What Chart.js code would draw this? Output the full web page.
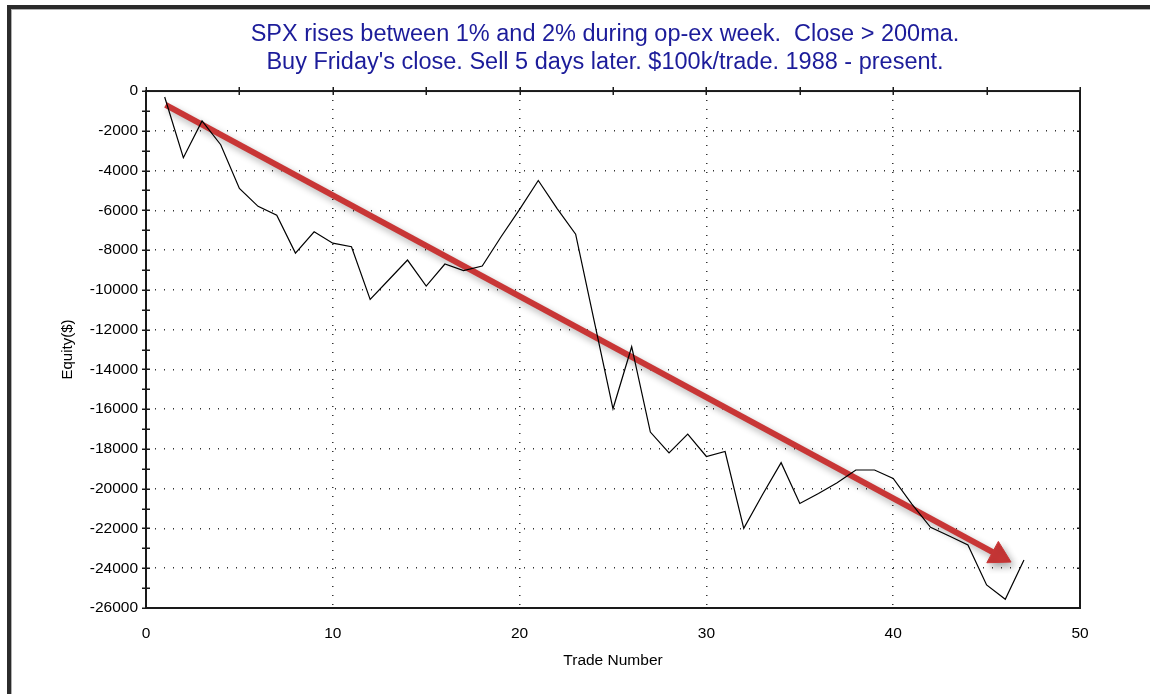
<!DOCTYPE html>
<html>
<head>
<meta charset="utf-8">
<script src="https://cdn.jsdelivr.net/npm/chart.js@4.4.0/dist/chart.umd.min.js"></script>
<style>
  html, body { margin: 0; padding: 0; background: #ffffff; }
  #wrap { width: 1150px; height: 694px; position: relative; }
</style>
</head>
<body>
<div id="wrap"><canvas id="c" width="1150" height="694"></canvas></div>
<script>
// ---- data ----
const titleLines = [
  "SPX rises between 1% and 2% during op-ex week.  Close > 200ma.",
  "Buy Friday's close. Sell 5 days later. $100k/trade. 1988 - present."
];
const xAxisTitle = "Trade Number";
const yAxisTitle = "Equity($)";

const tradeNumbers = [1,2,3,4,5,6,7,8,9,10,11,12,13,14,15,16,17,18,19,20,21,22,23,24,25,26,27,28,29,30,31,32,33,34,35,36,37,38,39,40,41,42,43,44,45,46,47];
const equity = [-300,-3350,-1500,-2700,-4900,-5800,-6250,-8150,-7080,-7650,
                -7830,-10480,-9490,-8500,-9810,-8700,-9030,-8800,-7340,-5950,
                -4500,-5900,-7200,-11600,-15980,-12860,-17150,-18200,-17250,-18380,
                -18130,-21990,-20300,-18690,-20740,-20240,-19700,-19060,-19060,-19480,
                -20770,-21940,-22380,-22830,-24840,-25560,-23590];

// trend arrow (start, head) in data units
const arrowX = [1.05, 45.65];
const arrowY = [-700, -23355];

const xMajorTicks = [0, 10, 20, 30, 40, 50];
const xMinorTicks = [0, 5, 10, 15, 20, 25, 30, 35, 40, 45, 50];
const yMajorTicks = [0,-2000,-4000,-6000,-8000,-10000,-12000,-14000,-16000,-18000,-20000,-22000,-24000,-26000];
const yMinorTicks = [-1000,-3000,-5000,-7000,-9000,-11000,-13000,-15000,-17000,-19000,-21000,-23000,-25000];

const FONT = "'Liberation Sans', Arial, sans-serif";

const decorPlugin = {
  id: 'decor',
  beforeDraw(chart) {
    const ctx = chart.ctx;
    ctx.save();
    ctx.fillStyle = '#ffffff';
    ctx.fillRect(0, 0, chart.width, chart.height);
    ctx.fillStyle = '#2b2b2b';
    ctx.fillRect(7, 5, chart.width - 7, 4);
    ctx.fillRect(7, 5, 4, chart.height - 5);
    ctx.fillStyle = '#b0b0b0';
    ctx.fillRect(11, 9, chart.width - 11, 1);
    ctx.fillRect(11, 9, 1, chart.height - 9);
    ctx.restore();
  },
  beforeDatasetDraw(chart, args) {
    if (args.index === 1) {
      const ctx = chart.ctx;
      ctx.save();
      ctx.shadowColor = 'rgba(0,0,0,0.3)';
      ctx.shadowBlur = 7;
      ctx.shadowOffsetX = 3;
      ctx.shadowOffsetY = 4;
    }
  },
  afterDatasetDraw(chart, args) {
    if (args.index === 1) chart.ctx.restore();
  },
  afterDraw(chart) {
    const ctx = chart.ctx;
    const a = chart.chartArea;
    const xs = chart.scales.x, ys = chart.scales.y;
    ctx.save();
    ctx.strokeStyle = '#1a1a1a';
    ctx.lineWidth = 2;
    ctx.strokeRect(a.left, a.top, a.right - a.left, a.bottom - a.top);
    ctx.lineWidth = 1.5;
    ctx.beginPath();
    [...yMajorTicks, ...yMinorTicks].forEach(v => {
      const py = Math.round(ys.getPixelForValue(v)) + 0.25;
      ctx.moveTo(a.left - 4, py); ctx.lineTo(a.left + 4, py);
    });
    yMajorTicks.forEach(v => {
      const py = Math.round(ys.getPixelForValue(v)) + 0.25;
      ctx.moveTo(a.right - 3, py); ctx.lineTo(a.right, py);
    });
    xMinorTicks.forEach(v => {
      const px = Math.round(xs.getPixelForValue(v)) + 0.25;
      ctx.moveTo(px, a.top - 4); ctx.lineTo(px, a.top + 4);
    });
    ctx.stroke();
    ctx.restore();
  }
};

function arrowAngle(c) {
  const xs = c.chart.scales.x, ys = c.chart.scales.y;
  if (!xs || !ys) return 0;
  const dx = xs.getPixelForValue(arrowX[1]) - xs.getPixelForValue(arrowX[0]);
  const dy = ys.getPixelForValue(arrowY[1]) - ys.getPixelForValue(arrowY[0]);
  return 90 + Math.atan2(dy, dx) * 180 / Math.PI;
}

new Chart(document.getElementById('c'), {
  type: 'line',
  data: {
    datasets: [
      {
        label: 'Equity',
        data: tradeNumbers.map((t, i) => ({ x: t, y: equity[i] })),
        borderColor: '#000000',
        borderWidth: 1.2,
        pointRadius: 0,
        tension: 0,
        fill: false
      },
      {
        label: 'Trend',
        data: arrowX.map((x, i) => ({ x: x, y: arrowY[i] })),
        borderColor: '#c83636',
        backgroundColor: '#c83636',
        borderWidth: 6,
        borderCapStyle: 'butt',
        pointStyle: 'triangle',
        pointRadius: c => c.dataIndex === arrowX.length - 1 ? 14 : 0,
        pointBorderColor: '#c83636',
        pointBackgroundColor: '#c83636',
        pointBorderWidth: 1,
        pointRotation: arrowAngle,
        tension: 0,
        fill: false
      }
    ]
  },
  options: {
    responsive: false,
    animation: false,
    events: [],
    layout: { padding: { left: 60, right: 0, top: 0, bottom: 0 } },
    plugins: {
      legend: { display: false },
      tooltip: { enabled: false },
      title: {
        display: true,
        text: titleLines,
        color: '#1c1c9a',
        font: { family: FONT, size: 23.5, weight: 'normal', lineHeight: 1.15 },
        padding: { top: 21.5, bottom: 15.5 }
      }
    },
    scales: {
      x: {
        type: 'linear',
        min: 0, max: 50,
        afterBuildTicks: s => { s.ticks = xMajorTicks.map(v => ({ value: v })); },
        afterFit: s => { s.height = 86; },
        border: { display: false, dash: [1, 8] },
        grid: {
          drawTicks: false,
          lineWidth: 1.5,
          color: c => (c.tick && (c.tick.value === 0 || c.tick.value === 50)) ? 'rgba(0,0,0,0)' : '#333333'
        },
        ticks: {
          color: '#000000',
          font: { family: FONT, size: 15.5 },
          padding: 16,
          maxRotation: 0,
          autoSkip: false
        },
        title: {
          display: true,
          text: xAxisTitle,
          color: '#000000',
          font: { family: FONT, size: 15.5 },
          padding: { top: 0, bottom: 24 }
        }
      },
      y: {
        type: 'linear',
        min: -26000, max: 0,
        afterBuildTicks: s => {
          s.ticks = [...yMajorTicks, ...yMinorTicks].sort((a, b) => a - b).map(v => ({ value: v }));
        },
        afterFit: s => { s.width = 86; },
        border: { display: false, dash: [1, 8] },
        grid: {
          drawTicks: false,
          lineWidth: 1.5,
          color: c => {
            if (!c.tick) return 'rgba(0,0,0,0)';
            const v = c.tick.value;
            if (v === 0 || v === -26000 || !yMajorTicks.includes(v)) return 'rgba(0,0,0,0)';
            return '#333333';
          }
        },
        ticks: {
          color: '#000000',
          font: { family: FONT, size: 15.5 },
          padding: 8,
          autoSkip: false,
          callback: v => yMajorTicks.includes(v) ? String(v) : ''
        },
        title: {
          display: true,
          text: yAxisTitle,
          color: '#000000',
          font: { family: FONT, size: 15 },
          padding: { top: -1, bottom: 0 }
        }
      },
      yRight: {
        type: 'linear',
        position: 'right',
        display: true,
        afterFit: s => { s.width = 70; },
        border: { display: false },
        grid: { display: false, drawTicks: false },
        ticks: { display: false }
      }
    }
  },
  plugins: [decorPlugin]
});
</script>
</body>
</html>
